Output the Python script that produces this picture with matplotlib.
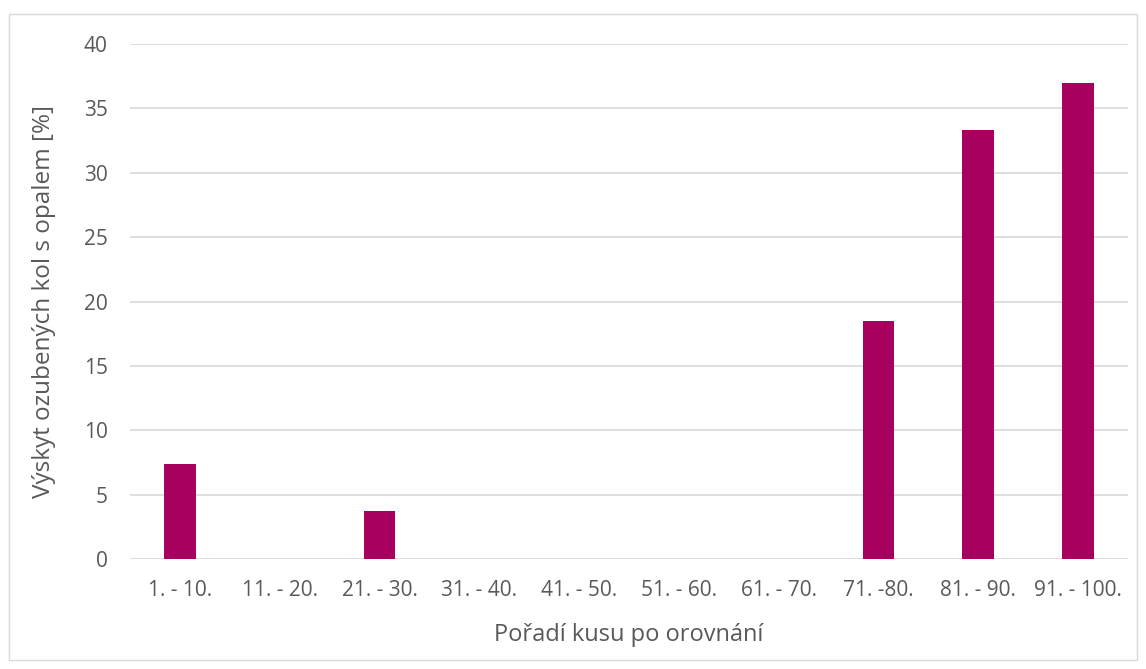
import matplotlib
matplotlib.use("Agg")
import matplotlib.pyplot as plt
from matplotlib.patches import Rectangle

# data
kategorie = ["1. - 10.", "11. - 20.", "21. - 30.", "31. - 40.", "41. - 50.",
             "51. - 60.", "61. - 70.", "71. -80.", "81. - 90.", "91. - 100."]
vyskyt = [7.4, 0, 3.7, 0, 0, 0, 0, 18.5, 33.3, 37.0]
y_ticks = [0, 5, 10, 15, 20, 25, 30, 35, 40]

plt.rcParams['font.family'] = ['Open Sans', 'DejaVu Sans']
text_color = "#595959"

fig = plt.figure(figsize=(11.46, 6.69), dpi=100)
ax = fig.add_axes([130/1146, 1 - 559/669, (1128-130)/1146, (559-44)/669])

x = range(len(kategorie))
ax.bar(x, vyskyt, width=0.32, color="#A8005F", zorder=3)

ax.set_xlim(-0.5, len(kategorie) - 0.5)
ax.set_ylim(0, 40)
ax.set_yticks(y_ticks)
ax.set_xticks(list(x))
ax.set_xticklabels(kategorie)
ax.tick_params(axis='both', length=0, labelsize=15, colors=text_color)
ax.tick_params(axis='x', pad=15)
ax.tick_params(axis='y', pad=16)
ax.grid(axis='y', color="#D9D9D9", linewidth=1.2, zorder=0)
for s in ax.spines.values():
    s.set_visible(False)

ax.set_ylabel("Výskyt ozubených kol s opalem [%]", fontsize=17.5, color=text_color, labelpad=20)
ax.set_xlabel("Pořadí kusu po orovnání", fontsize=17, color=text_color, labelpad=16)

# ramecek grafu
fig.patches.append(Rectangle((9/1146, 1 - 660/669), (1137-9)/1146, (660-14)/669,
                             transform=fig.transFigure, fill=False,
                             edgecolor="#D9D9D9", linewidth=1))

fig.savefig("out.png", dpi=100)
